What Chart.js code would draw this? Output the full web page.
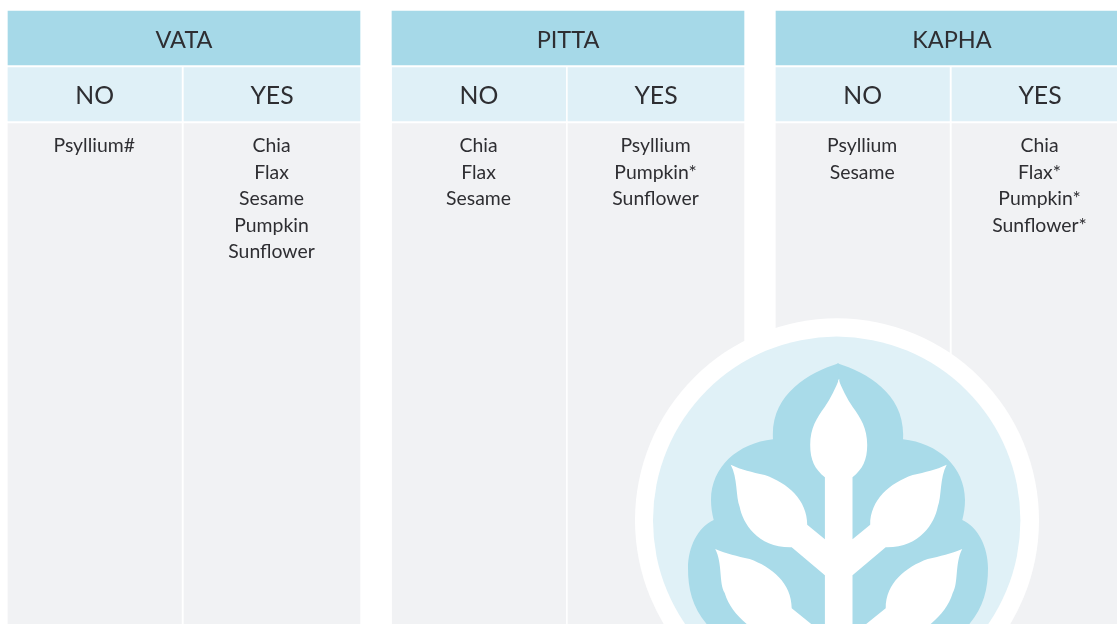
<!DOCTYPE html>
<html>
<head>
<meta charset="utf-8">
<style>
  html, body { margin: 0; padding: 0; background: #fff; overflow: hidden; }
  canvas { display: block; }
</style>
<script src="https://cdn.jsdelivr.net/npm/chart.js@4"></script>
</head>
<body>
<canvas id="chart" width="1117" height="624"></canvas>
<script>
// table content
const doshas = ['VATA', 'PITTA', 'KAPHA'];
const verdicts = ['NO', 'YES'];
const vataNo = ['Psyllium#'];
const vataYes = ['Chia', 'Flax', 'Sesame', 'Pumpkin', 'Sunflower'];
const pittaNo = ['Chia', 'Flax', 'Sesame'];
const pittaYes = ['Psyllium', 'Pumpkin*', 'Sunflower'];
const kaphaNo = ['Psyllium', 'Sesame'];
const kaphaYes = ['Chia', 'Flax*', 'Pumpkin*', 'Sunflower*'];
const seedLists = [vataNo, vataYes, pittaNo, pittaYes, kaphaNo, kaphaYes];

// layout, in scale units (the scales run 1:1 with the page)
const panelCentres = [184, 568, 952];
const noCentres = [94.7, 479, 862.7];
const yesCentres = [272, 656, 1040];
const noWidth = 173.5;
const yesWidth = 176;
const panelWidth = 352;
const titleBand = [11, 65];
const verdictBand = [67.5, 121];
const bodyBand = [123.5, 640];
const firstLine = 145.8;
const lineStep = 26.6;

const FONT = 'Lato, "Noto Sans", sans-serif';
const INK = '#2e2e32';

const rows = band => centres => centres.map(x => ({ x, y: band }));

// logo outline, right half only, in reference pixels relative to the logo axis
// first and last points sit just past the axis so the two halves overlap
const cloudHalf = [
    [-0.6, 363.3],
    [30, 373, 68, 395, 65, 439.3],
    [100, 443, 127, 467, 127, 500],
    [127, 507, 126, 513, 124.3, 520],
    [140, 527, 150, 547, 150, 568.3],
    [150, 600, 140, 625, 100, 650],
    [-0.6, 650]
];
const budHalf = [
    [-0.6, 378.7],
    [3, 388, 8, 398, 14, 407],
    [22, 418, 28.5, 428, 28.5, 445],
    [28.5, 460, 24, 469, 13.8, 477.3],
    [13.8, 539.3],
    [31.5, 524.7],
    [31.5, 500, 51, 483, 74, 475],
    [87, 472, 97, 470, 108, 464.7],
    [101, 477, 103, 497, 99, 507],
    [96, 523, 81, 548, 47, 547.3],
    [13.8, 575.3],
    [13.8, 635],
    [47, 608.3],
    [47, 583, 67, 567, 89, 559],
    [102, 556, 112, 554, 123.5, 549],
    [116, 563, 120, 583, 114, 593],
    [109, 610, 96, 622, 79, 634],
    [59, 650],
    [-0.6, 650]
];

function traceHalf(ctx, sx, sy, pts, axis, side) {
    pts.forEach((p, i) => {
        if (i === 0) ctx.moveTo(sx(axis + side * p[0]), sy(p[1]));
        else if (p.length === 2) ctx.lineTo(sx(axis + side * p[0]), sy(p[1]));
        else ctx.bezierCurveTo(
            sx(axis + side * p[0]), sy(p[1]),
            sx(axis + side * p[2]), sy(p[3]),
            sx(axis + side * p[4]), sy(p[5])
        );
    });
}

const tableText = {
    id: 'tableText',
    afterDatasetsDraw(chart) {
        const { ctx, scales: { x, y } } = chart;
        ctx.save();
        ctx.fillStyle = INK;
        ctx.textAlign = 'center';
        ctx.textBaseline = 'middle';

        ctx.font = '23.5px ' + FONT;
        doshas.forEach((name, i) => {
            ctx.fillText(name, x.getPixelForValue(panelCentres[i]), y.getPixelForValue(40));
        });

        ctx.font = '24.8px ' + FONT;
        panelCentres.forEach((c, i) => {
            ctx.fillText(verdicts[0], x.getPixelForValue(noCentres[i]), y.getPixelForValue(96.5));
            ctx.fillText(verdicts[1], x.getPixelForValue(yesCentres[i]), y.getPixelForValue(96.5));
        });

        ctx.font = '19.4px ' + FONT;
        seedLists.forEach((list, i) => {
            const group = Math.floor(i / 2);
            const centre = i % 2 === 0 ? noCentres[group] : yesCentres[group];
            list.forEach((seed, j) => {
                ctx.fillText(seed, x.getPixelForValue(centre - 0.5), y.getPixelForValue(firstLine + j * lineStep));
            });
        });
        ctx.restore();
    }
};

const logo = {
    id: 'logo',
    afterDatasetsDraw(chart) {
        const { ctx, scales: { x, y } } = chart;
        const sx = v => x.getPixelForValue(v);
        const sy = v => y.getPixelForValue(v);
        ctx.save();

        ctx.fillStyle = '#ffffff';
        ctx.beginPath();
        ctx.arc(sx(837), sy(520.3), 202, 0, Math.PI * 2);
        ctx.fill();

        ctx.fillStyle = '#e0f1f7';
        ctx.beginPath();
        ctx.arc(sx(836.7), sy(520.3), 183.7, 0, Math.PI * 2);
        ctx.fill();

        ctx.fillStyle = '#a9dbe9';
        [1, -1].forEach(side => {
            ctx.beginPath();
            traceHalf(ctx, sx, sy, cloudHalf, 838, side);
            ctx.closePath();
            ctx.fill();
        });

        ctx.fillStyle = '#ffffff';
        [1, -1].forEach(side => {
            ctx.beginPath();
            traceHalf(ctx, sx, sy, budHalf, 838.7, side);
            ctx.closePath();
            ctx.fill();
        });
        ctx.restore();
    }
};

new Chart(document.getElementById('chart'), {
    type: 'bar',
    data: {
        datasets: [
            {
                data: rows(titleBand)(panelCentres),
                backgroundColor: '#a6d9e8',
                barThickness: panelWidth,
                grouped: false
            },
            {
                data: rows(verdictBand)(noCentres),
                backgroundColor: '#dff0f7',
                barThickness: noWidth,
                grouped: false
            },
            {
                data: rows(verdictBand)(yesCentres),
                backgroundColor: '#dff0f7',
                barThickness: yesWidth,
                grouped: false
            },
            {
                data: rows(bodyBand)(noCentres),
                backgroundColor: '#f1f2f4',
                barThickness: noWidth,
                grouped: false
            },
            {
                data: rows(bodyBand)(yesCentres),
                backgroundColor: '#f1f2f4',
                barThickness: yesWidth,
                grouped: false
            }
        ]
    },
    options: {
        responsive: false,
        animation: false,
        layout: { padding: 0 },
        plugins: {
            legend: { display: false },
            tooltip: { enabled: false }
        },
        scales: {
            x: { type: 'linear', min: 0, max: 1117, display: false, offset: false },
            y: { type: 'linear', min: 0, max: 624, reverse: true, display: false }
        }
    },
    plugins: [tableText, logo]
});
</script>
</body>
</html>
